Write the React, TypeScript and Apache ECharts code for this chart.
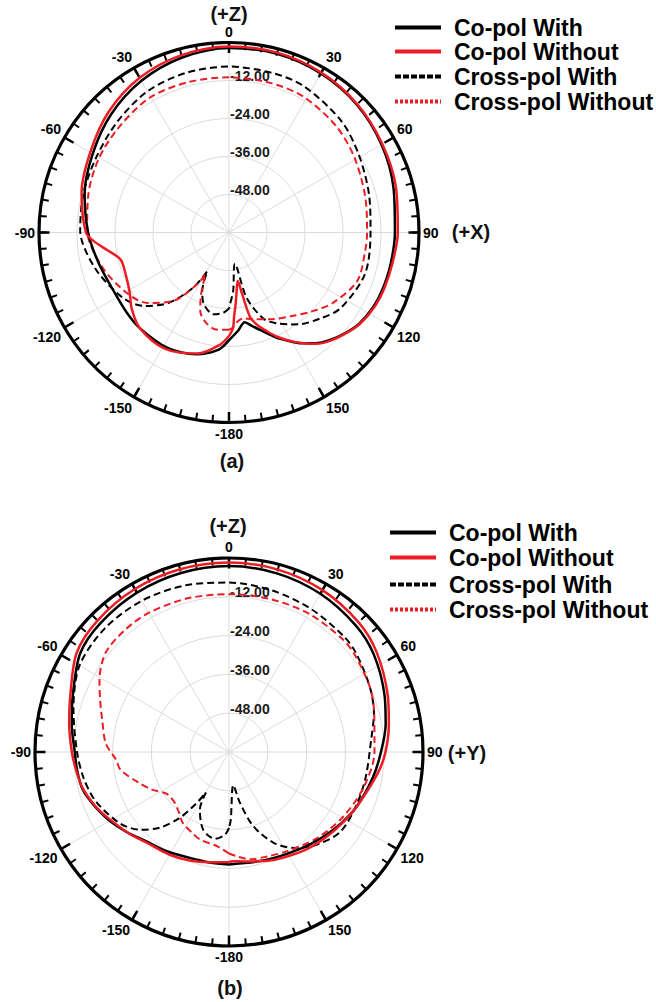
import React, { useEffect, useRef } from 'react';
import * as echarts from 'echarts';

const FONT = '"Liberation Sans", Arial, sans-serif';
const RED = '#ec1c24';
const BLACK = '#000000';

const seriesNames = ['Co-pol With', 'Co-pol Without', 'Cross-pol With', 'Cross-pol Without'];
const angleTickLabels = ['0', '30', '60', '90', '120', '150', '-180', '-150', '-120', '-90', '-60', '-30'];
const radialTickLabels = ['-48.00', '-36.00', '-24.00', '-12.00'];

// ---------- Chart (a) : XZ plane ----------
const coWithA_ang = [-180, -175, -165, -152, -137, -128, -118, -103, -90, -75, -60, -45, -30, -15, 0, 15, 30, 45, 60, 75, 90, 101, 110, 117, 125, 131, 137, 142, 147, 151, 156, 161, 166, 170, 175, 180];
const coWithA_db = [-26.0, -22.9, -20.2, -18.7, -18.7, -19.0, -19.2, -17.7, -15.5, -12.8, -10.3, -7.3, -4.7, -2.8, -1.7, -1.6, -2.0, -2.9, -4.4, -6.2, -7.6, -8.0, -8.3, -8.7, -9.8, -11.5, -13.5, -15.6, -18.3, -20.8, -23.8, -27.0, -29.5, -31.2, -28.7, -26.0];

const coWithoutA_ang = [-180, -175.5, -165.5, -151, -137, -128, -121, -112, -104, -98, -94, -90, -75, -60, -45, -30, -15, 0, 15, 30, 45, 60, 75, 90, 101, 110, 117, 125, 131, 137, 142, 146, 150, 155, 159, 163, 166, 167.9, 169.8, 172.8, 174.8, 176.5, 177.6, 180];
const coWithoutA_db = [-27.3, -24.5, -20.5, -18.1, -18.7, -21.0, -23.4, -24.8, -24.7, -21.0, -17.5, -14.8, -11.8, -9.4, -6.2, -3.6, -2.0, -1.3, -1.2, -1.7, -2.7, -4.1, -5.4, -6.7, -7.5, -7.9, -8.4, -9.6, -11.3, -13.2, -15.4, -17.8, -20.3, -23.6, -26.6, -29.5, -32.5, -40.0, -44.4, -40.9, -37.1, -33.5, -29.8, -27.3];

const crossWithA_ang = [-180, -176, -169.4, -160.7, -155.4, -150.8, -146.8, -139.2, -130.8, -121.8, -104.8, -89.2, -75, -60, -45, -30, -15, 0, 15, 27, 45, 59, 75, 89.4, 106.9, 124, 133, 142.5, 147, 152, 158, 164.9, 169.3, 175.9, 179.2, 180];
const crossWithA_db = [-36.0, -34.6, -33.7, -36.0, -39.7, -46.0, -39.0, -30.6, -24.5, -20.7, -16.2, -13.0, -12.4, -11.8, -10.3, -8.5, -7.8, -7.6, -7.8, -8.1, -10.0, -12.2, -14.2, -15.3, -15.1, -17.4, -20.3, -23.5, -25.4, -27.5, -30.5, -38.6, -50.0, -41.5, -37.3, -36.0];

const crossWithoutA_ang = [-180, -173, -166.8, -160, -156.6, -150.5, -148.6, -140.8, -130.9, -121.4, -105.6, -89, -75, -60, -45, -30, -15, 0, 15, 28.7, 45, 58.8, 75, 90, 97.6, 110.7, 124.2, 134, 143.1, 153.5, 164.8, 170, 174.1, 178, 180];
const crossWithoutA_db = [-29.3, -29.1, -30.2, -33.5, -37.4, -44.9, -41.0, -32.1, -26.0, -22.7, -18.6, -15.2, -14.0, -12.7, -11.8, -10.6, -10.8, -11.0, -11.0, -11.1, -12.3, -13.8, -15.5, -16.4, -16.6, -16.7, -20.4, -24.0, -27.0, -29.4, -31.6, -32.5, -31.9, -29.8, -29.3];

// ---------- Chart (b) : YZ plane ----------
const coWithB_ang = [-180, -170, -158.8, -148, -137, -128, -119.3, -112, -104.5, -97, -90, -80, -70, -56.5, -45, -30, -15, 0, 15, 30, 45, 56, 70, 80, 90, 100, 113, 122, 131, 140, 148, 157, 165, 172, 180];
const coWithB_db = [-25.2, -25.3, -25.0, -23.8, -22.3, -19.8, -17.2, -15.2, -13.3, -12.7, -12.3, -10.6, -8.6, -4.8, -3.7, -3.1, -2.7, -2.5, -2.8, -3.5, -4.6, -6.0, -8.8, -10.8, -13.0, -14.8, -17.0, -18.8, -20.6, -22.2, -23.5, -24.4, -25.0, -25.3, -25.2];

const coWithoutB_ang = [-180, -170, -160, -150, -137, -130, -119, -112, -104, -97, -90, -80, -70, -57, -45, -30, -15, 0, 15, 30, 45, 56, 70, 80, 90, 98, 113, 122, 131, 140, 148, 157, 165, 172, 178, 180];
const coWithoutB_db = [-26.0, -25.4, -24.3, -23.3, -22.0, -20.3, -17.5, -15.4, -13.4, -12.4, -11.4, -9.8, -7.8, -3.8, -2.5, -1.8, -1.5, -1.4, -1.6, -2.2, -3.3, -4.9, -7.8, -9.8, -11.6, -13.5, -17.0, -18.6, -20.0, -21.3, -22.6, -23.8, -25.0, -25.8, -26.2, -26.0];

const crossWithB_ang = [-180, -177.2, -170.8, -161.6, -153.2, -150.3, -147.6, -143.2, -137.5, -131, -122.9, -110, -100, -90, -75, -60, -45, -30, -15, 0, 15, 30, 45, 52, 65, 75, 85.2, 100, 111.7, 125.4, 136.4, 146, 153.8, 161.8, 167.8, 172.6, 178.5, 180];
const crossWithB_db = [-36.5, -34.4, -32.8, -34.7, -40.0, -45.6, -41.3, -34.5, -28.2, -23.4, -19.6, -16.0, -14.3, -13.0, -10.2, -6.6, -5.8, -6.0, -6.7, -7.6, -8.3, -9.0, -9.6, -10.2, -12.0, -13.6, -15.9, -17.0, -17.3, -17.6, -20.5, -24.2, -28.7, -35.8, -43.9, -49.7, -39.0, -36.5];

const crossWithoutB_ang = [-180, -173, -161.6, -155.6, -147, -140, -133.2, -124, -116, -109.2, -99.4, -94, -86, -76, -68, -61, -51, -40, -30, -15, 0, 15, 30, 45, 52, 65, 75, 90, 105, 120, 135, 150, 160, 168.9, 175, 180];
const crossWithoutB_db = [-28.6, -30.6, -31.5, -32.5, -33.8, -35.8, -37.0, -36.8, -33.5, -30.7, -26.0, -25.0, -21.8, -19.6, -17.0, -14.2, -11.0, -10.4, -10.3, -10.8, -11.2, -11.0, -10.6, -10.5, -10.8, -12.0, -13.5, -15.0, -17.0, -19.5, -22.0, -24.5, -25.6, -26.2, -27.5, -28.6];

const chartData = [
  [
    [coWithA_ang, coWithA_db],
    [coWithoutA_ang, coWithoutA_db],
    [crossWithA_ang, crossWithA_db],
    [crossWithoutA_ang, crossWithoutA_db],
  ],
  [
    [coWithB_ang, coWithB_db],
    [coWithoutB_ang, coWithoutB_db],
    [crossWithB_ang, crossWithB_db],
    [crossWithoutB_ang, crossWithoutB_db],
  ],
];

const toPolar = (ang: number[], db: number[]) => ang.map((a, i) => [db[i], (a + 360) % 360]);

const angleLabel = (v: number) => {
  if (v >= 360) return '';
  const idx = Math.round(v / 30) % 12;
  return angleTickLabels[idx];
};
const radialLabel = (v: number) => {
  const idx = Math.round((v + 48) / 12);
  if (v <= -60 || v >= 0 || idx < 0 || idx > 3) return '';
  return radialTickLabels[idx];
};

const seriesStyles = [
  { color: BLACK, width: 2.5, type: 'solid' as any, z: 4 },
  { color: RED, width: 2.5, type: 'solid' as any, z: 5 },
  { color: BLACK, width: 2, type: [7, 4] as any, z: 2 },
  { color: RED, width: 2, type: [7, 4] as any, z: 3 },
];
const legendLineTypes: any[] = ['solid', 'solid', [6, 2], [3, 2]];

const polarLayout = [
  { center: [229, 232.5], radius: 190 },
  { center: [229, 752], radius: 194 },
];
const legendLayout = [
  { lineX: 393, rows: [23, 47, 72, 97], textPad: 8 },
  { lineX: 388, rows: [528, 553, 580, 605], textPad: 8 },
];

const texts = [
  { text: '(+Z)', x: 229, y: 14 },
  { text: '(+X)', x: 471, y: 232 },
  { text: '(a)', x: 232, y: 461 },
  { text: '(+Z)', x: 228, y: 526 },
  { text: '(+Y)', x: 467, y: 753 },
  { text: '(b)', x: 230, y: 988 },
];

export default function App() {
  const ref = useRef<HTMLDivElement>(null);
  useEffect(() => {
    if (!ref.current) return;
    const chart = echarts.init(ref.current, undefined, { renderer: 'svg' });

    const series: any[] = [];
    [0, 1].forEach((pi) => {
      [2, 3, 0, 1].forEach((si) => {
        const st = seriesStyles[si];
        const [ang, db] = chartData[pi][si];
        series.push({
          type: 'line',
          name: seriesNames[si],
          coordinateSystem: 'polar',
          polarIndex: pi,
          data: toPolar(ang, db),
          symbol: 'none',
          showSymbol: false,
          smooth: 0.3,
          z: st.z,
          lineStyle: { color: st.color, width: st.width, type: st.type },
          itemStyle: { color: st.color },
        });
      });
    });

    const legends: any[] = [];
    legendLayout.forEach((ll) => {
      seriesNames.forEach((name, si) => {
        legends.push({
          data: [name],
          left: ll.lineX,
          top: ll.rows[si] - 7,
          padding: 0,
          itemWidth: 46,
          itemHeight: 14,
          selectedMode: false,
          itemStyle: { color: 'rgba(0,0,0,0)', borderWidth: 0, opacity: 0 },
          lineStyle: { width: 4, type: legendLineTypes[si] },
          textStyle: {
            fontFamily: FONT,
            fontWeight: 'bold',
            fontSize: 23,
            color: '#000',
            padding: [0, 0, 0, ll.textPad],
          },
        });
      });
    });

    // polars 0,1: main; 2,3: minor tick rings (5 deg); 4,5: major tick rings (30 deg)
    const polars: any[] = [
      ...polarLayout.map((p) => ({ center: p.center, radius: p.radius })),
      ...polarLayout.map((p) => ({ center: p.center, radius: [p.radius - 7, p.radius] })),
      ...polarLayout.map((p) => ({ center: p.center, radius: [p.radius - 10.5, p.radius] })),
    ];

    const mainAngle = [0, 1].map((i) => ({
      polarIndex: i,
      type: 'value',
      min: 0,
      max: 360,
      interval: 30,
      startAngle: 90,
      clockwise: true,
      axisLine: { show: true, lineStyle: { color: '#000', width: 3.2 } },
      axisTick: { show: false },
      axisLabel: {
        show: true,
        margin: 4,
        color: '#000',
        fontFamily: FONT,
        fontWeight: 'bold',
        fontSize: 14,
        formatter: angleLabel,
      },
      splitLine: { show: true, lineStyle: { color: '#dcdcdc', width: 1 } },
    }));
    const ringAngle = (idx: number, interval: number, width: number) => ({
      polarIndex: idx,
      type: 'value',
      min: 0,
      max: 360,
      interval,
      startAngle: 90,
      clockwise: true,
      axisLine: { show: false },
      axisTick: { show: false },
      axisLabel: { show: false },
      splitLine: { show: true, lineStyle: { color: '#000', width } },
    });

    const mainRadius = [0, 1].map((i) => ({
      polarIndex: i,
      type: 'value',
      min: -60,
      max: 0,
      interval: 12,
      axisLine: { show: false },
      axisTick: { show: false },
      axisLabel: {
        show: true,
        formatter: radialLabel,
        align: 'left',
        verticalAlign: 'bottom',
        lineHeight: 9,
        margin: -1,
        color: '#1a1a1a',
        fontFamily: FONT,
        fontWeight: 'bold',
        fontSize: 14,
      },
      splitLine: { show: true, lineStyle: { color: '#dcdcdc', width: 1 } },
    }));
    const ringRadius = (idx: number) => ({
      polarIndex: idx,
      type: 'value',
      min: -60,
      max: 0,
      axisLine: { show: false },
      axisTick: { show: false },
      axisLabel: { show: false },
      splitLine: { show: false },
    });

    const option: any = {
      animation: false,
      backgroundColor: '#ffffff',
      polar: polars,
      angleAxis: [
        ...mainAngle,
        ringAngle(2, 5, 2),
        ringAngle(3, 5, 2),
        ringAngle(4, 30, 2.5),
        ringAngle(5, 30, 2.5),
      ],
      radiusAxis: [...mainRadius, ringRadius(2), ringRadius(3), ringRadius(4), ringRadius(5)],
      legend: legends,
      series,
      graphic: texts.map((t) => ({
        type: 'text',
        x: t.x,
        y: t.y,
        style: {
          text: t.text,
          fill: '#111',
          font: `bold 20px ${FONT}`,
          align: 'center',
          verticalAlign: 'middle',
        },
      })),
    };
    chart.setOption(option);
    return () => chart.dispose();
  }, []);

  return (
    <div
      ref={ref}
      style={{ position: 'absolute', left: 0, top: 0, width: 656, height: 1002, background: '#fff' }}
    />
  );
}
